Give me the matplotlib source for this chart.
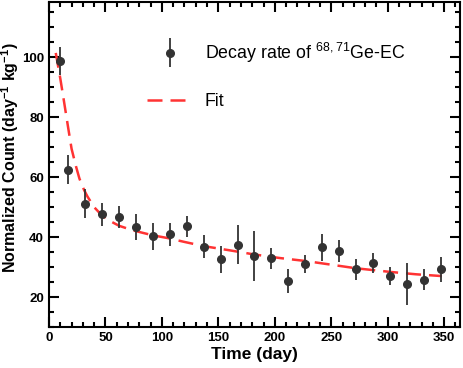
import matplotlib
matplotlib.use("Agg")
import matplotlib.pyplot as plt
from matplotlib.ticker import MultipleLocator
from matplotlib.legend_handler import HandlerErrorbar
from matplotlib.container import ErrorbarContainer

# measured decay rate points
days = [10, 17, 32, 47, 62, 77, 92, 107, 122, 137, 152, 167,
        182, 197, 212, 227, 242, 257, 272, 287, 302, 317, 332, 347]
rate = [98.7, 62.5, 51.2, 47.6, 46.7, 43.3, 40.3, 40.9, 43.7, 36.8, 32.6, 37.4,
        33.7, 32.9, 25.3, 31.0, 36.6, 35.5, 29.2, 31.3, 27.0, 24.4, 25.8, 29.2]
rate_err = [4.7, 4.9, 4.8, 3.9, 3.8, 4.4, 4.5, 3.9, 3.5, 3.9, 4.6, 6.5,
            8.3, 3.4, 4.0, 3.1, 4.6, 3.7, 3.6, 3.3, 3.0, 7.1, 3.4, 4.3]

# fit curve
fit_days = [6, 10, 13, 17, 20, 24, 27, 31, 34, 40, 47, 55, 62, 70, 77, 92,
            105, 120, 137, 160, 182, 205, 228, 250, 272, 302, 325, 348]
fit_rate = [101.5, 93.0, 86.0, 76.5, 69.5, 63.5, 59.5, 55.8, 53.6, 50.0, 47.2, 45.2,
            43.8, 42.8, 42.0, 40.6, 39.7, 38.4, 37.0, 35.6, 34.2, 33.0, 32.0, 30.8,
            29.6, 28.4, 27.6, 27.0]

plt.rcParams["font.family"] = ["Liberation Sans", "DejaVu Sans"]
plt.rcParams["mathtext.fontset"] = "custom"
plt.rcParams["mathtext.rm"] = "Liberation Sans"
plt.rcParams["mathtext.bf"] = "Liberation Sans:bold"

fig = plt.figure(figsize=(4.63, 3.68), dpi=100)
ax = fig.add_axes([0.1058, 0.1114, 0.8877, 0.8832])

dark = "#333333"
red = "#ff3333"

ax.errorbar(days, rate, yerr=rate_err, fmt="o", color=dark, ms=5.5,
            elinewidth=1.3, capsize=0, zorder=3)
fit_line, = ax.plot(fit_days, fit_rate, color=red, lw=1.8, dashes=(6, 3.2), zorder=2)

# legend proxy with caps
proxy = ax.errorbar([], [], yerr=[], fmt="o", color=dark, ms=5.5,
                    elinewidth=1.3, capsize=3.5, capthick=1.3)
leg = ax.legend([proxy, fit_line],
                [r"Decay rate of $^{68,71}$Ge-EC", "Fit"],
                handler_map={ErrorbarContainer: HandlerErrorbar(yerr_size=0.8)},
                loc="upper left", bbox_to_anchor=(0.2, 0.93), frameon=False,
                fontsize=12.8, handlelength=2.6, handletextpad=0.65,
                labelspacing=1.6)

ax.set_xlim(0, 364)
ax.set_ylim(10, 118.5)
ax.xaxis.set_major_locator(MultipleLocator(50))
ax.xaxis.set_minor_locator(MultipleLocator(10))
ax.yaxis.set_major_locator(MultipleLocator(20))
ax.yaxis.set_minor_locator(MultipleLocator(5))
ax.tick_params(which="both", direction="in", top=True, right=True, width=1.5,
               labelsize=9.5)
ax.tick_params(which="major", length=7)
ax.tick_params(which="minor", length=3.8)
for lab in ax.get_xticklabels() + ax.get_yticklabels():
    lab.set_fontweight("bold")
for sp in ax.spines.values():
    sp.set_linewidth(1.5)

ax.set_xlabel("Time (day)", fontsize=12.5, fontweight="bold", labelpad=2)
ax.set_ylabel(r"Normalized Count (day$^{\mathbf{-1}}$ kg$^{\mathbf{-1}}$)",
              fontsize=11.5, fontweight="bold")
ax.yaxis.set_label_coords(-0.068, 0.52)

fig.savefig("out.png", dpi=100)
